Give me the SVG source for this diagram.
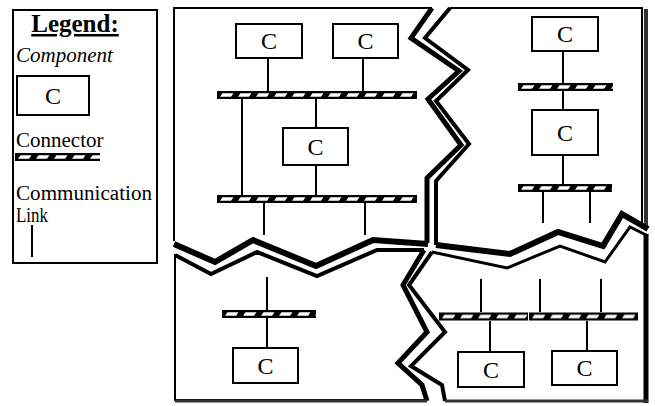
<svg xmlns="http://www.w3.org/2000/svg" width="655" height="406" viewBox="0 0 655 406">
<style>
.t{font-family:"Liberation Serif","Times New Roman",serif;fill:#000}
.c{font-size:24px;text-anchor:middle}
.box{fill:#fff;stroke:#000;stroke-width:2}
.lnk{stroke:#000;stroke-width:2;fill:none}
.edge{fill:none;stroke:#000;stroke-width:2;stroke-linejoin:miter}
.band{fill:none;stroke:#000;stroke-linejoin:miter;stroke-miterlimit:10}
.bar{fill:url(#hatch)}
</style>
<defs>
<pattern id="hatch" patternUnits="userSpaceOnUse" width="18" height="8">
<rect width="18" height="8" fill="#000"/>
<polygon points="3,5.8 14,5.8 16.5,2.2 5.5,2.2" fill="#fff"/>
</pattern>
</defs>
<rect width="655" height="406" fill="#fff"/>

<g id="legend">
<rect x="13" y="10" width="144" height="253" fill="#fff" stroke="#000" stroke-width="2"/>
<text class="t" x="75" y="32" font-size="25" font-weight="bold" text-anchor="middle" text-decoration="underline">Legend:</text>
<text class="t" x="16" y="62" font-size="21" font-style="italic">Component</text>
<rect class="box" x="17" y="76" width="72" height="39"/>
<text class="t c" x="53" y="104">C</text>
<text class="t" x="16" y="147" font-size="21">Connector</text>
<rect class="bar" transform="translate(15,153)" width="85" height="8"/>
<text class="t" x="16" y="199.5" font-size="20" textLength="136" lengthAdjust="spacingAndGlyphs">Communication</text>
<text class="t" x="16" y="221.5" font-size="20" textLength="32" lengthAdjust="spacingAndGlyphs">Link</text>
<line class="lnk" x1="32" y1="225" x2="32" y2="257"/>
</g>

<g id="frame">
<polyline class="edge" points="174,241 174,8 432,8"/>
<polyline class="band" stroke-width="5" points="432,8 411,38 459,71 428,99 461,145 427,178 427,243"/>
<polyline class="band" stroke-width="6" points="174,244 215,262 253,240 316,266 373,240 428,244"/>

<polyline class="edge" points="450,8 642,8 642,226"/>
<line x1="646" y1="9" x2="646" y2="228" stroke="#333" stroke-width="4"/>
<polyline class="band" stroke-width="4" points="450,8 425,38 468,70 436,101 469,144 436,181 436,245"/>
<polyline class="band" stroke-width="6" points="436,245 510,254 558,232 603,246 622,214 648,229"/>

<polyline class="edge" points="175,254 175,400 427,400"/>
<polyline class="band" stroke-width="4" points="175,255 211,274 257,252 317,276 377,250 424,250"/>
<polyline class="band" stroke-width="5" points="424,250 403,285 427,332 398,363 422,385 427,401"/>

<polyline class="band" stroke-width="3" points="432,252 507,268 560,246 605,262 630,227 648,236"/>
<polyline class="band" stroke-width="4" points="432,252 409,285 445,332 411,366 442,385 445,401"/>
<line x1="646" y1="234" x2="646" y2="403" stroke="#000" stroke-width="5"/>
<line x1="175" y1="401" x2="427" y2="401" stroke="#333" stroke-width="3"/>
<line x1="445" y1="401" x2="648" y2="401" stroke="#333" stroke-width="3"/>
</g>

<g id="connectors">
<line class="lnk" x1="268" y1="58" x2="268" y2="91"/>
<line class="lnk" x1="363" y1="58" x2="363" y2="91"/>
<line class="lnk" x1="242" y1="99" x2="242" y2="195"/>
<line class="lnk" x1="316" y1="99" x2="316" y2="128"/>
<line class="lnk" x1="316" y1="165" x2="316" y2="195"/>
<line class="lnk" x1="264" y1="203" x2="264" y2="235"/>
<line class="lnk" x1="365" y1="203" x2="365" y2="235"/>
<line class="lnk" x1="563" y1="51" x2="563" y2="83"/>
<line class="lnk" x1="563" y1="91" x2="563" y2="110"/>
<line class="lnk" x1="563" y1="155" x2="563" y2="184"/>
<line class="lnk" x1="543" y1="192" x2="543" y2="223"/>
<line class="lnk" x1="590" y1="192" x2="590" y2="223"/>
<line class="lnk" x1="267" y1="277" x2="267" y2="310"/>
<line class="lnk" x1="267" y1="318" x2="267" y2="348"/>
<line class="lnk" x1="481" y1="279" x2="481" y2="312"/>
<line class="lnk" x1="540" y1="279" x2="540" y2="312"/>
<line class="lnk" x1="601" y1="279" x2="601" y2="312"/>
<line class="lnk" x1="490" y1="321" x2="490" y2="352"/>
<line class="lnk" x1="587" y1="321" x2="587" y2="351"/>
</g>

<g id="bus-tl-1"><rect class="bar" transform="translate(217,91)" width="200" height="8"/></g>
<g id="bus-tl-2"><rect class="bar" transform="translate(217,195)" width="200" height="8"/></g>
<g id="bus-tr-1"><rect class="bar" transform="translate(518,83)" width="95" height="8"/></g>
<g id="bus-tr-2"><rect class="bar" transform="translate(518,184)" width="94" height="8"/></g>
<g id="bus-bl"><rect class="bar" transform="translate(222,310)" width="94" height="8"/></g>
<g id="bus-br-1"><rect class="bar" transform="translate(439,312.5)" width="89" height="8"/></g>
<g id="bus-br-2"><rect class="bar" transform="translate(529,312.5)" width="109" height="8"/></g>

<g id="comp-tl-1"><rect class="box" x="236" y="24" width="66" height="34"/><text class="t c" x="269" y="49">C</text></g>
<g id="comp-tl-2"><rect class="box" x="333" y="24" width="65" height="34"/><text class="t c" x="365.5" y="49">C</text></g>
<g id="comp-tl-3"><rect class="box" x="283" y="128" width="65" height="37"/><text class="t c" x="315.5" y="155">C</text></g>
<g id="comp-tr-1"><rect class="box" x="532" y="17" width="66" height="34"/><text class="t c" x="565" y="42">C</text></g>
<g id="comp-tr-2"><rect class="box" x="532" y="110" width="66" height="45"/><text class="t c" x="565" y="141">C</text></g>
<g id="comp-bl"><rect class="box" x="233" y="348" width="65" height="35"/><text class="t c" x="265.5" y="374">C</text></g>
<g id="comp-br-1"><rect class="box" x="458" y="352" width="66" height="35"/><text class="t c" x="491" y="378">C</text></g>
<g id="comp-br-2"><rect class="box" x="552" y="351" width="65" height="34"/><text class="t c" x="584.5" y="376">C</text></g>
</svg>
